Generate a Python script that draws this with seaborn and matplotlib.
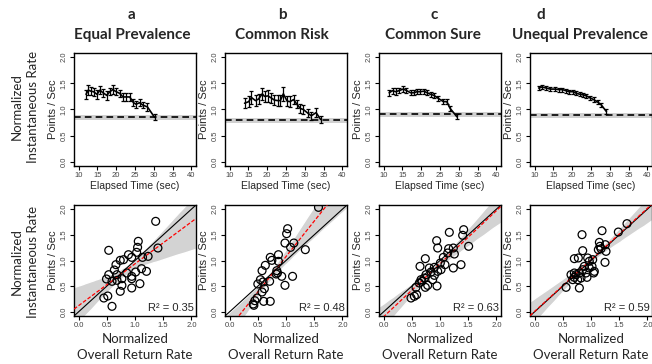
import numpy as np
import pandas as pd
import matplotlib
matplotlib.use("Agg")
import matplotlib.pyplot as plt
import seaborn as sns

sns.set_theme(style="ticks")
plt.rcParams['font.family'] = ['Liberation Sans', 'DejaVu Sans']

# ---------------- data ----------------
panel_letters = ["a", "b", "c", "d"]
panel_titles = ["Equal Prevalence", "Common Risk", "Common Sure", "Unequal Prevalence"]

# top row: instantaneous rate over elapsed time
time_a = [12.0, 12.6, 13.3, 14.0, 14.9, 15.7, 16.5, 17.5, 18.3, 19.1, 20.0, 20.9, 21.8, 22.7, 23.6, 24.6, 25.3, 26.2, 27.2, 28.3, 30.2]
rate_a = [1.29, 1.37, 1.35, 1.34, 1.29, 1.37, 1.32, 1.27, 1.34, 1.38, 1.34, 1.31, 1.24, 1.24, 1.24, 1.13, 1.10, 1.13, 1.08, 1.05, 0.85]
err_a = [0.09, 0.09, 0.08, 0.08, 0.08, 0.07, 0.08, 0.08, 0.07, 0.08, 0.07, 0.07, 0.07, 0.07, 0.07, 0.07, 0.07, 0.07, 0.06, 0.07, 0.06]

time_b = [14.0, 15.1, 15.8, 16.9, 17.7, 18.7, 19.3, 20.2, 21.1, 21.9, 22.8, 23.5, 24.3, 25.3, 26.1, 27.0, 27.9, 28.8, 29.6, 30.8, 31.7, 33.0, 34.2]
rate_b = [1.12, 1.15, 1.23, 1.17, 1.20, 1.30, 1.25, 1.26, 1.22, 1.18, 1.17, 1.17, 1.30, 1.16, 1.15, 1.19, 1.10, 1.02, 1.00, 0.93, 0.88, 0.94, 0.81]
err_b = [0.10, 0.10, 0.12, 0.10, 0.10, 0.12, 0.10, 0.12, 0.10, 0.10, 0.10, 0.10, 0.13, 0.10, 0.10, 0.08, 0.08, 0.08, 0.08, 0.08, 0.08, 0.08, 0.07]

time_c = [11.5, 12.4, 13.2, 14.1, 15.2, 15.9, 17.2, 18.0, 18.9, 19.8, 20.7, 21.6, 22.5, 23.4, 24.6, 25.9, 26.8, 27.7, 29.5]
rate_c = [1.32, 1.36, 1.34, 1.36, 1.39, 1.37, 1.32, 1.32, 1.34, 1.34, 1.35, 1.32, 1.29, 1.27, 1.21, 1.15, 1.15, 1.02, 0.86]
err_c = [0.06, 0.06, 0.07, 0.05, 0.05, 0.05, 0.05, 0.05, 0.05, 0.05, 0.05, 0.05, 0.05, 0.05, 0.05, 0.05, 0.05, 0.05, 0.05]

time_d = [11.1, 12.0, 13.1, 14.2, 15.4, 16.5, 17.4, 18.3, 19.2, 20.2, 21.1, 22.1, 22.9, 23.8, 24.8, 25.7, 26.8, 27.7, 29.1]
rate_d = [1.41, 1.43, 1.41, 1.39, 1.39, 1.38, 1.38, 1.36, 1.34, 1.34, 1.31, 1.29, 1.28, 1.26, 1.22, 1.19, 1.14, 1.09, 0.96]
err_d = [0.04, 0.04, 0.04, 0.04, 0.04, 0.04, 0.04, 0.04, 0.04, 0.04, 0.04, 0.04, 0.04, 0.04, 0.04, 0.04, 0.04, 0.04, 0.04]

overall_mean = [0.85, 0.79, 0.905, 0.89]
overall_halfwidth = [0.05, 0.05, 0.055, 0.05]

# bottom row: normalized overall return rate vs instantaneous rate
overall_a = [1.366, 1.406, 0.535, 1.058, 1.046, 1.029, 0.884, 0.942, 0.739, 0.663, 0.634, 0.535, 1.133, 1.232,
             1.116, 1.203, 1.011, 0.942, 0.942, 0.855, 0.768, 0.681, 0.593, 0.495, 0.768, 0.739, 0.942, 1.087,
             0.448, 0.518, 0.593, 0.681, 0.797]
inst_a = [1.762, 1.243, 1.198, 1.373, 1.256, 1.159, 1.113, 1.061, 1.003, 0.919, 0.815, 0.724, 1.061, 1.081,
          0.841, 0.789, 0.776, 0.692, 0.646, 0.757, 0.646, 0.614, 0.595, 0.640, 0.517, 0.400, 0.465, 0.549,
          0.270, 0.309, 0.108, 0.724, 1.016]

overall_b = [1.575, 1.029, 1.011, 0.982, 1.139, 1.081, 1.342, 0.866, 0.721, 0.750, 0.634, 0.866, 0.576, 0.837,
             0.826, 0.849, 0.924, 1.116, 0.710, 0.982, 0.547, 0.501, 0.593, 0.617, 0.576, 0.489, 0.448, 0.419,
             0.431, 0.605, 0.721]
inst_b = [2.034, 1.619, 1.522, 1.340, 1.340, 1.256, 1.211, 1.113, 1.061, 1.003, 0.906, 0.984, 0.802, 0.802,
          0.737, 0.757, 0.692, 0.692, 0.595, 0.517, 0.627, 0.543, 0.582, 0.452, 0.387, 0.270, 0.218, 0.153,
          0.128, 0.205, 0.205]

overall_c = [1.419, 1.165, 1.401, 0.941, 0.959, 1.153, 1.236, 1.507, 1.136, 1.254, 0.740, 1.059, 1.006, 1.088,
             0.900, 0.646, 1.236, 1.372, 1.018, 0.959, 0.841, 0.900, 0.752, 0.723, 0.681, 0.634, 0.782, 0.740,
             0.947, 0.870, 0.575, 0.587, 0.546, 0.487, 0.664, 0.811]
inst_c = [1.600, 1.548, 1.490, 1.386, 1.243, 1.230, 1.243, 1.276, 1.146, 1.126, 1.036, 1.061, 0.951, 0.919,
          0.867, 0.886, 0.854, 0.919, 0.822, 0.789, 0.776, 0.711, 0.724, 0.659, 0.595, 0.562, 0.517, 0.478,
          0.504, 0.627, 0.478, 0.335, 0.303, 0.270, 0.627, 0.854]

overall_d = [1.637, 1.484, 1.195, 0.841, 0.853, 1.148, 1.159, 1.177, 1.130, 1.254, 1.266, 1.248, 0.705, 0.776,
             0.941, 0.970, 1.030, 1.018, 0.970, 1.059, 1.047, 0.882, 0.853, 0.794, 0.735, 0.705, 0.764, 0.823,
             0.676, 0.705, 0.794, 0.558, 0.929, 0.646, 0.912]
inst_d = [1.717, 1.554, 1.580, 1.503, 1.191, 1.353, 1.276, 1.230, 1.211, 1.308, 1.178, 0.964, 1.036, 1.049,
          1.049, 0.984, 1.016, 0.886, 0.854, 0.789, 0.757, 0.886, 0.821, 0.757, 0.724, 0.672, 0.627, 0.659,
          0.627, 0.757, 0.465, 0.478, 0.672, 0.724, 0.757]

r2_labels = ["0.35", "0.48", "0.63", "0.59"]

top_series = [(time_a, rate_a, err_a), (time_b, rate_b, err_b), (time_c, rate_c, err_c), (time_d, rate_d, err_d)]
bottom_series = [(overall_a, inst_a), (overall_b, inst_b), (overall_c, inst_c), (overall_d, inst_d)]

# ---------------- layout ----------------
W, H = 652, 364
fig = plt.figure(figsize=(W / 100, H / 100), dpi=100)
lefts = [74, 225, 379, 530]
pw = 122
letter_x = [132, 282, 434, 541]
title_x = [132, 282, 433, 580]
TICK_COLOR = "#444444"
label_font = ['Lato', 'DejaVu Sans']


def style_axes(ax):
    for s in ax.spines.values():
        s.set_visible(True)
        s.set_color("black")
        s.set_linewidth(1.0)
    ax.tick_params(direction="out", length=3, width=0.8, colors="black",
                   labelsize=5.5, labelcolor=TICK_COLOR, pad=1.5)
    ax.grid(False)
    ax.set_facecolor("white")


yt = [0.0, 0.5, 1.0, 1.5, 2.0]
ytl = ["0.0", "0.5", "1.0", "1.5", "2.0"]

for i in range(4):
    l = lefts[i]
    cx = (l + pw / 2) / W
    # ---- top panel ----
    ax = fig.add_axes([l / W, 1 - 166 / H, pw / W, 113 / H])
    t, v, e = top_series[i]
    m, h = overall_mean[i], overall_halfwidth[i]
    ax.axhspan(m - h, m + h, color="#d0d0d0", lw=0, zorder=1)
    ax.axhline(m, color="black", ls=(0, (4, 2.5)), lw=1.2, zorder=2)
    df = pd.DataFrame({"t": t, "v": v})
    sns.lineplot(data=df, x="t", y="v", ax=ax, color="black", lw=1.2, zorder=3)
    ax.errorbar(t, v, yerr=e, fmt="none", ecolor="black", elinewidth=0.9,
                capsize=1.6, capthick=0.9, zorder=3)
    ax.set_xlim(8.8, 41.2)
    ax.set_ylim(-0.08, 2.08)
    ax.set_xticks([10, 15, 20, 25, 30, 35, 40])
    ax.set_yticks(yt)
    ax.set_yticklabels(ytl, rotation=90, va="center")
    style_axes(ax)
    ax.set_xlabel("Elapsed Time (sec)", fontsize=7.5, labelpad=1.5)
    ax.set_ylabel("Points / Sec", fontsize=8, labelpad=2)

    fig.text(letter_x[i] / W, 1 - 15 / H, panel_letters[i], ha="center", va="center",
             fontsize=11, fontweight="bold", family=label_font)
    fig.text(title_x[i] / W, 1 - 35 / H, panel_titles[i], ha="center", va="center",
             fontsize=11, fontweight="bold", family=label_font)

    # ---- bottom panel ----
    ax2 = fig.add_axes([l / W, 1 - 316 / H, pw / W, 111 / H])
    x, y = bottom_series[i]
    ax2.set_xlim(-0.08, 2.08)
    ax2.set_ylim(-0.08, 2.08)
    sns.regplot(x=np.array(x), y=np.array(y), ax=ax2, scatter=False, truncate=False, ci=95,
                color="#d3d3d3",
                line_kws=dict(color="red", lw=0.9, ls=(0, (3, 1.5)), zorder=4))
    band = ax2.collections[-1]
    band.set_facecolor("#d3d3d3")
    band.set_alpha(1)
    band.set_zorder(1)
    ax2.axline((0, 0), slope=1, color="black", lw=0.8, zorder=3)
    sns.scatterplot(x=x, y=y, ax=ax2, s=32, facecolor="none", edgecolor="black",
                    linewidth=0.9, zorder=5, legend=False)
    ax2.set_xlim(-0.08, 2.08)
    ax2.set_ylim(-0.08, 2.08)
    ax2.set_xticks(yt)
    ax2.set_xticklabels(ytl)
    ax2.set_yticks(yt)
    ax2.set_yticklabels(ytl, rotation=90, va="center")
    style_axes(ax2)
    ax2.set_xlabel("")
    ax2.set_ylabel("Points / Sec", fontsize=8, labelpad=2)
    ax2.text(0.98, 0.03, "R² = " + r2_labels[i], transform=ax2.transAxes,
             ha="right", va="bottom", fontsize=8, zorder=6)
    fig.text(cx, 1 - 339 / H, "Normalized", ha="center", va="center",
             fontsize=9.5, family=label_font)
    fig.text(cx, 1 - 355 / H, "Overall Return Rate", ha="center", va="center",
             fontsize=9.5, family=label_font)

fig.text(25 / W, 1 - 107 / H, "Normalized\nInstantaneous Rate", rotation=90, ha="center",
         va="center", fontsize=9.5, family=label_font, linespacing=1.4)
fig.text(25 / W, 1 - 262 / H, "Normalized\nInstantaneous Rate", rotation=90, ha="center",
         va="center", fontsize=9.5, family=label_font, linespacing=1.4)

fig.savefig("out.png", dpi=100)
